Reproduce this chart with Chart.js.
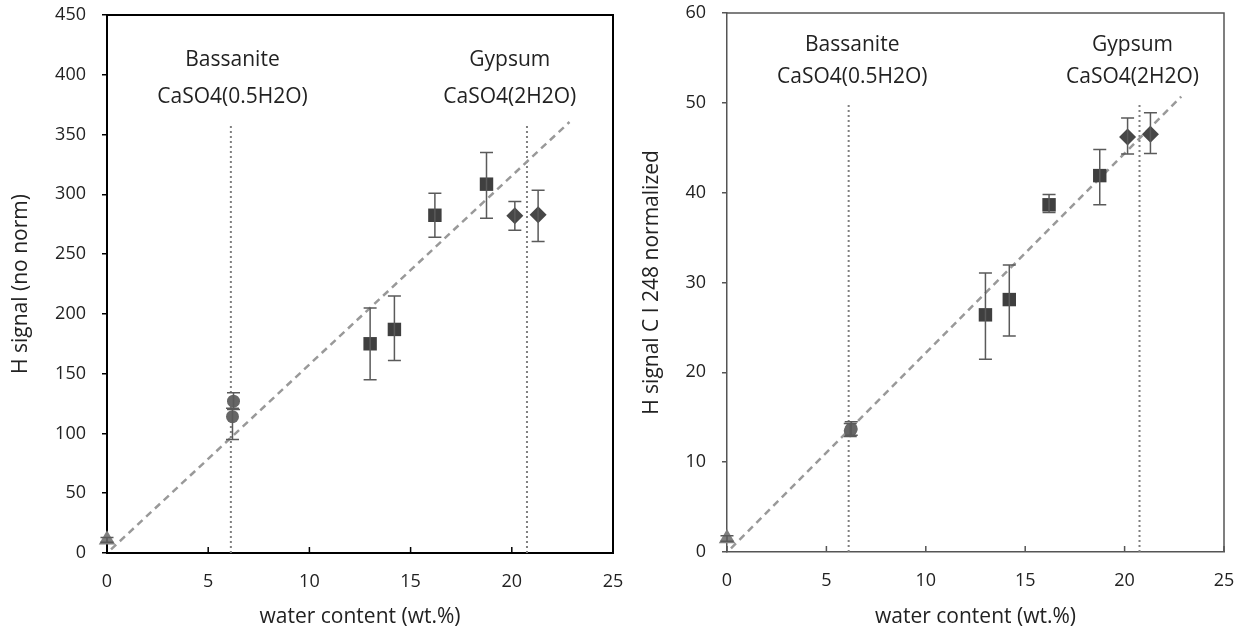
<!DOCTYPE html>
<html lang="en">
<head>
    <meta charset="UTF-8">
    <title>H signal vs water content</title>
    <script src="https://cdn.jsdelivr.net/npm/chart.js@4.4.0/dist/chart.umd.min.js"></script>
    <style>
        body { margin: 0; background: #fff; }
        .wrap { position: absolute; top: 0; height: 634px; }
        #leftBox { left: 0; width: 627px; }
        #rightBox { left: 627px; width: 626px; }
    </style>
</head>
<body>
    <div class="wrap" id="leftBox"><canvas id="leftChart" width="627" height="634"></canvas></div>
    <div class="wrap" id="rightBox"><canvas id="rightChart" width="626" height="634"></canvas></div>
    <script>
        // ---- shared x values (water content, wt.%) ----
        const triX = [0];
        const circX = [6.2, 6.25];
        const sqX = [13.0, 14.2, 16.2, 18.75];
        const diaX = [20.15, 21.3];
        const trendX = [0.2, 22.85];
        const bassaniteX = 6.12;
        const gypsumX = 20.75;

        // ---- left chart: H signal (no norm) ----
        const leftTriY = [11];
        const leftTriLo = [9];
        const leftTriHi = [13];
        const leftCircY = [114, 127];
        const leftCircLo = [95, 120];
        const leftCircHi = [121, 134];
        const leftSqY = [175, 187, 282.5, 308.5];
        const leftSqLo = [145, 161, 264, 280];
        const leftSqHi = [205, 215, 301, 335];
        const leftDiaY = [282, 283];
        const leftDiaLo = [270, 260.5];
        const leftDiaHi = [294, 303.5];
        const leftTrendY = [3, 360.5];
        const leftVlineTop = 358;
        const leftYTicks = [0, 50, 100, 150, 200, 250, 300, 350, 400, 450];

        // ---- right chart: H signal C I 248 normalized ----
        const rightTriY = [1.5];
        const rightTriLo = [1.2];
        const rightTriHi = [1.8];
        const rightCircY = [13.5, 13.7];
        const rightCircLo = [12.85, 13.0];
        const rightCircHi = [14.3, 14.5];
        const rightSqY = [26.4, 28.1, 38.65, 41.9];
        const rightSqLo = [21.45, 24.05, 37.8, 38.65];
        const rightSqHi = [31.05, 31.95, 39.8, 44.8];
        const rightDiaY = [46.2, 46.5];
        const rightDiaLo = [44.3, 44.35];
        const rightDiaHi = [48.3, 48.9];
        const rightTrendY = [0.4, 50.7];
        const rightVlineTop = 49.8;
        const rightYTicks = [0, 10, 20, 30, 40, 50, 60];

        const xTicks = [0, 5, 10, 15, 20, 25];
        const phaseNames = ['Bassanite', 'Gypsum'];
        const phaseFormulas = ['CaSO4(0.5H2O)', 'CaSO4(2H2O)'];

        const FONT = "'Open Sans', 'Noto Sans', sans-serif";

        function pts(xs, ys) {
            return xs.map((x, i) => ({ x: x, y: ys[i] }));
        }

        // error bars, box frame, inward x ticks and phase labels
        const extrasPlugin = {
            id: 'extras',
            afterDatasetsDraw(chart, args, opts) {
                const ctx = chart.ctx;
                const xs = chart.scales.x;
                const ys = chart.scales.y;
                const area = chart.chartArea;
                ctx.save();

                // error bars
                chart.data.datasets.forEach(ds => {
                    if (!ds.errLo) return;
                    ds.data.forEach((p, i) => {
                        const px = xs.getPixelForValue(p.x);
                        const lo = ys.getPixelForValue(ds.errLo[i]);
                        const hi = ys.getPixelForValue(ds.errHi[i]);
                        ctx.strokeStyle = '#5a5a5a';
                        ctx.lineWidth = 1.5;
                        ctx.beginPath();
                        ctx.moveTo(px, lo); ctx.lineTo(px, hi);
                        ctx.moveTo(px - 6.5, lo); ctx.lineTo(px + 6.5, lo);
                        ctx.moveTo(px - 6.5, hi); ctx.lineTo(px + 6.5, hi);
                        ctx.stroke();
                    });
                });

                // frame (top + right sides)
                ctx.strokeStyle = opts.frameColor;
                ctx.lineWidth = opts.frameWidth;
                ctx.beginPath();
                ctx.moveTo(area.left, area.top);
                ctx.lineTo(area.right, area.top);
                ctx.lineTo(area.right, area.bottom);
                ctx.stroke();

                // inward tick marks on x axis
                ctx.lineWidth = 1.5;
                ctx.beginPath();
                xs.ticks.forEach(t => {
                    const px = xs.getPixelForValue(t.value);
                    ctx.moveTo(px, area.bottom);
                    ctx.lineTo(px, area.bottom - 6);
                });
                ctx.stroke();

                // phase labels
                ctx.fillStyle = '#222';
                ctx.font = '21px ' + FONT;
                ctx.textAlign = 'center';
                ctx.textBaseline = 'middle';
                opts.labels.forEach(l => {
                    const px = xs.getPixelForValue(l.x);
                    ctx.fillText(l.name, px, area.top + l.dy1);
                    ctx.fillText(l.formula, px, area.top + l.dy2);
                });
                ctx.restore();
            }
        };

        function makeChart(id, cfg) {
            const datasets = [
                {
                    label: 'trend', type: 'line', data: pts(trendX, cfg.trendY),
                    borderColor: '#999', borderWidth: 2.5, borderDash: [7, 5],
                    pointRadius: 0, showLine: true, order: 5
                },
                {
                    label: 'bassanite', type: 'line', data: pts([bassaniteX, bassaniteX], [0, cfg.vTop]),
                    borderColor: '#808080', borderWidth: 2, borderDash: [2, 3],
                    pointRadius: 0, showLine: true, order: 6
                },
                {
                    label: 'gypsum', type: 'line', data: pts([gypsumX, gypsumX], [0, cfg.vTop]),
                    borderColor: '#808080', borderWidth: 2, borderDash: [2, 3],
                    pointRadius: 0, showLine: true, order: 6
                },
                {
                    label: 'triangle', data: pts(triX, cfg.triY), errLo: cfg.triLo, errHi: cfg.triHi, clip: false,
                    pointStyle: 'triangle', pointRadius: 9.5, backgroundColor: '#7f7f7f', borderColor: '#7f7f7f', borderWidth: 0
                },
                {
                    label: 'circles', data: pts(circX, cfg.circY), errLo: cfg.circLo, errHi: cfg.circHi, clip: false,
                    pointStyle: 'circle', pointRadius: 6.5, backgroundColor: '#666', borderColor: '#666', borderWidth: 0
                },
                {
                    label: 'squares', data: pts(sqX, cfg.sqY), errLo: cfg.sqLo, errHi: cfg.sqHi, clip: false,
                    pointStyle: 'rect', pointRadius: 9.5, backgroundColor: '#3f3f3f', borderColor: '#3f3f3f', borderWidth: 0
                },
                {
                    label: 'diamonds', data: pts(diaX, cfg.diaY), errLo: cfg.diaLo, errHi: cfg.diaHi, clip: false,
                    pointStyle: 'rectRot', pointRadius: 8.5, backgroundColor: '#474747', borderColor: '#474747', borderWidth: 0
                }
            ];

            return new Chart(document.getElementById(id), {
                type: 'scatter',
                data: { datasets: datasets },
                options: {
                    responsive: false,
                    animation: false,
                    layout: { padding: cfg.padding },
                    plugins: {
                        legend: { display: false },
                        tooltip: { enabled: false },
                        extras: {
                            frameColor: cfg.frameColor,
                            frameWidth: cfg.frameWidth,
                            labels: [
                                { x: cfg.labelX[0], name: phaseNames[0], formula: phaseFormulas[0], dy1: cfg.dy1, dy2: cfg.dy2 },
                                { x: cfg.labelX[1], name: phaseNames[1], formula: phaseFormulas[1], dy1: cfg.dy1, dy2: cfg.dy2 }
                            ]
                        }
                    },
                    scales: {
                        x: {
                            type: 'linear', min: 0, max: 25,
                            afterFit: s => { s.height = cfg.xHeight; s.paddingLeft = 0; s.paddingRight = 0; },
                            afterBuildTicks: s => { s.ticks = xTicks.map(v => ({ value: v })); },
                            border: { display: true, color: cfg.frameColor, width: cfg.frameWidth },
                            grid: { display: true, drawOnChartArea: false, drawTicks: false },
                            ticks: { color: '#222', padding: 18, font: { family: FONT, size: 18 } },
                            title: {
                                display: true, text: 'water content (wt.%)', color: '#222',
                                font: { family: FONT, size: 21 }, padding: { top: 0, bottom: 4 }
                            }
                        },
                        y: {
                            type: 'linear', min: 0, max: cfg.yMax,
                            afterFit: s => { s.width = cfg.yWidth; s.paddingTop = 0; s.paddingBottom = 0; },
                            afterBuildTicks: s => { s.ticks = cfg.yTicks.map(v => ({ value: v })); },
                            border: { display: true, color: cfg.frameColor, width: cfg.frameWidth },
                            grid: { display: true, drawOnChartArea: false, drawTicks: true, tickLength: 5, tickColor: cfg.frameColor, lineWidth: 1.5 },
                            ticks: { color: '#222', padding: 16, font: { family: FONT, size: 18 } },
                            title: {
                                display: true, text: cfg.yTitle, color: '#222',
                                font: { family: FONT, size: 21 }, padding: { top: cfg.yTitlePad, bottom: 0 }
                            }
                        }
                    }
                },
                plugins: [extrasPlugin]
            });
        }

        makeChart('leftChart', {
            triY: leftTriY, triLo: leftTriLo, triHi: leftTriHi,
            circY: leftCircY, circLo: leftCircLo, circHi: leftCircHi,
            sqY: leftSqY, sqLo: leftSqLo, sqHi: leftSqHi,
            diaY: leftDiaY, diaLo: leftDiaLo, diaHi: leftDiaHi,
            trendY: leftTrendY, vTop: leftVlineTop,
            yMax: 450, yTicks: leftYTicks, yTitle: 'H signal (no norm)',
            padding: { left: 0, right: 14, top: 15, bottom: 0 },
            yWidth: 107, xHeight: 81, yTitlePad: 8,
            frameColor: '#000', frameWidth: 2,
            labelX: [6.2, 19.9], dy1: 45, dy2: 82
        });

        makeChart('rightChart', {
            triY: rightTriY, triLo: rightTriLo, triHi: rightTriHi,
            circY: rightCircY, circLo: rightCircLo, circHi: rightCircHi,
            sqY: rightSqY, sqLo: rightSqLo, sqHi: rightSqHi,
            diaY: rightDiaY, diaLo: rightDiaLo, diaHi: rightDiaHi,
            trendY: rightTrendY, vTop: rightVlineTop,
            yMax: 60, yTicks: rightYTicks, yTitle: 'H signal C I 248 normalized',
            padding: { left: 0, right: 29, top: 13, bottom: 0 },
            yWidth: 100, xHeight: 82, yTitlePad: 12,
            frameColor: '#555', frameWidth: 1.5,
            labelX: [6.3, 20.4], dy1: 32, dy2: 64
        });
    </script>
</body>
</html>
